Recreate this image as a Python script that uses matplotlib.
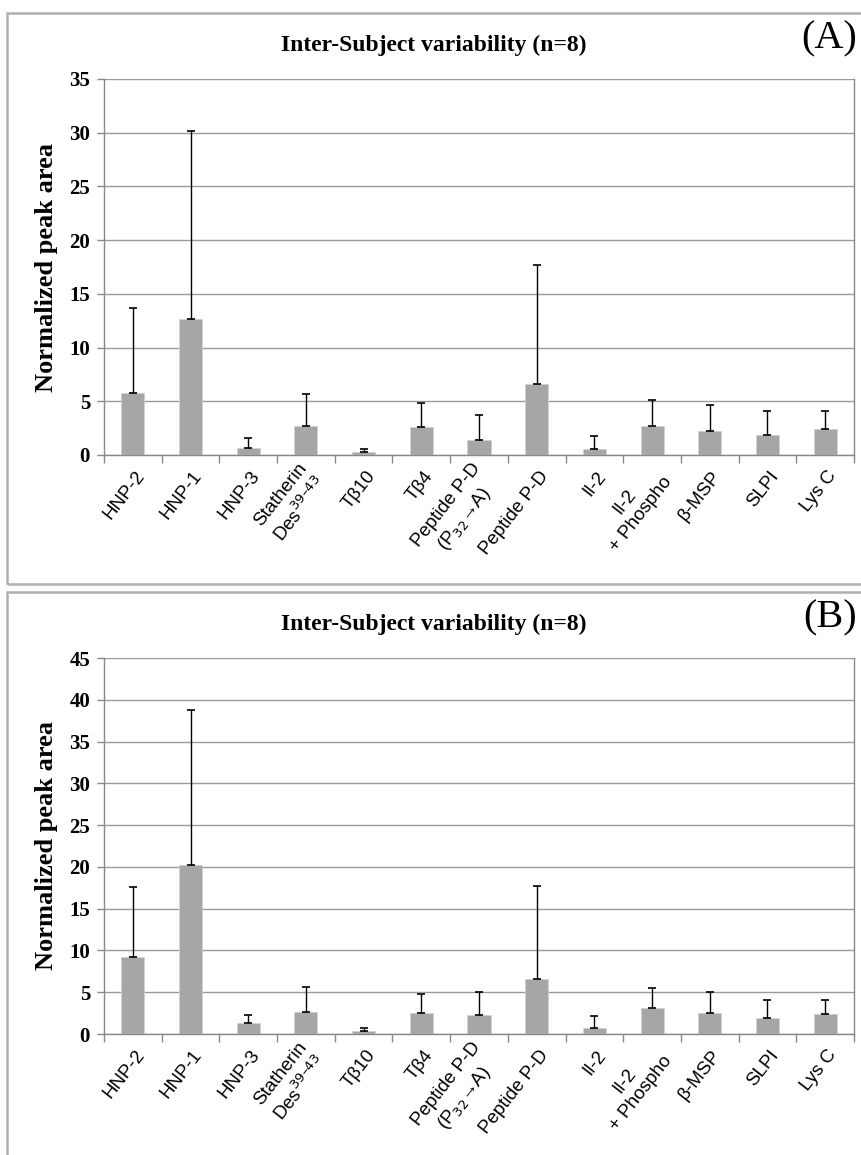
import matplotlib
matplotlib.use("Agg")
import matplotlib.pyplot as plt
import numpy as np
from matplotlib.patches import Rectangle

categories = ["HNP-2", "HNP-1", "HNP-3", "Statherin\nDes$^{39\u201343}$", "T\u03b210", "T\u03b24",
              "Peptide P-D\n(P$_{32}$\u2192A)", "Peptide P-D", "Il-2", "Il-2\n+ Phospho",
              "\u03b2-MSP", "SLPI", "Lys C"]

means_a = [5.8, 12.7, 0.68, 2.73, 0.28, 2.58, 1.4, 6.6, 0.55, 2.7, 2.25, 1.9, 2.45]
upper_a = [13.73, 30.12, 1.58, 5.65, 0.59, 4.88, 3.7, 17.7, 1.8, 5.15, 4.65, 4.1, 4.1]

means_b = [9.22, 20.2, 1.28, 2.67, 0.4, 2.47, 2.24, 6.6, 0.72, 3.07, 2.55, 1.88, 2.44]
upper_b = [17.6, 38.76, 2.28, 5.59, 0.76, 4.83, 5.0, 17.7, 2.2, 5.5, 5.0, 4.12, 4.12]

titles = ["Inter-Subject variability (n=8)", "Inter-Subject variability (n=8)"]
panel_tags = ["(A)", "(B)"]
ylims = [35, 45]
ylabel = "Normalized peak area"

W, H = 861, 1155
fig = plt.figure(figsize=(W / 100, H / 100), dpi=100)

serif = "Liberation Serif"
sans = "Liberation Sans"
grid_c = "#9a9a9a"
bar_c = "#a6a6a6"

def fx(px):
    return px / W

def fy(py):
    return 1 - py / H

# panel frames
fig.add_artist(Rectangle((fx(7), fy(584)), fx(861 - 7 + 5), (584 - 13) / H,
                         transform=fig.transFigure, fill=False, ec="#b0b0b0", lw=1.8, clip_on=False))
fig.add_artist(Rectangle((fx(7), fy(1160)), fx(861 - 7 + 5), (1160 - 592) / H,
                         transform=fig.transFigure, fill=False, ec="#b0b0b0", lw=1.8, clip_on=False))

panel_px = [(79, 455, 13), (658, 1034, 592)]
x = np.arange(len(categories))

for i, (means, upper) in enumerate([(means_a, upper_a), (means_b, upper_b)]):
    top, bot, frame_top = panel_px[i]
    ax = fig.add_axes([fx(104), fy(bot), fx(854 - 104), (bot - top) / H])
    errs = np.array(upper) - np.array(means)
    ax.bar(x, means, width=0.4, color=bar_c, edgecolor="#d0d0d0", linewidth=0.6, zorder=3)
    ax.errorbar(x, means, yerr=[np.zeros_like(errs), errs], fmt="none", ecolor="black",
                elinewidth=1.0, capsize=3, capthick=1.2, zorder=4)
    ax.set_xlim(-0.5, len(categories) - 0.5)
    ax.set_ylim(0, ylims[i])
    ax.set_yticks(np.arange(0, ylims[i] + 1, 5))
    ax.yaxis.grid(True, color=grid_c, lw=1.0, zorder=0)
    ax.set_axisbelow(True)
    for s in ["left", "bottom", "right", "top"]:
        ax.spines[s].set_color("#888888")
        ax.spines[s].set_linewidth(1.0)
    ax.spines["top"].set_visible(False)
    ax.tick_params(axis="y", direction="out", length=5, color="#888888", width=1, pad=5)
    for lab in ax.get_yticklabels():
        lab.set_fontfamily(serif)
        lab.set_fontweight("bold")
        lab.set_fontsize(15)
    # category boundary ticks
    ax.set_xticks(np.arange(-0.5, len(categories), 1.0))
    ax.set_xticklabels([])
    ax.tick_params(axis="x", direction="out", length=6, color="#888888", width=1)
    # rotated category labels
    for xi, lab in zip(x, categories):
        ax.annotate(lab, xy=(xi, 0), xycoords=("data", "axes fraction"),
                    xytext=(6, -13), textcoords="offset points",
                    rotation=52, rotation_mode="anchor", ha="right", va="center",
                    multialignment="center", fontsize=13.5, fontfamily=sans,
                    linespacing=1.25)
    ax.set_ylabel(ylabel, fontfamily=serif, fontweight="bold", fontsize=19, labelpad=8)
    # title and tag
    fig.text(fx(434), fy(frame_top + 32), titles[i], ha="center", va="center",
             fontfamily=serif, fontweight="bold", fontsize=17)
    fig.text(fx(857), fy(frame_top + 26), panel_tags[i], ha="right", va="center",
             fontfamily=serif, fontsize=29)

fig.savefig("out.png", dpi=100)
